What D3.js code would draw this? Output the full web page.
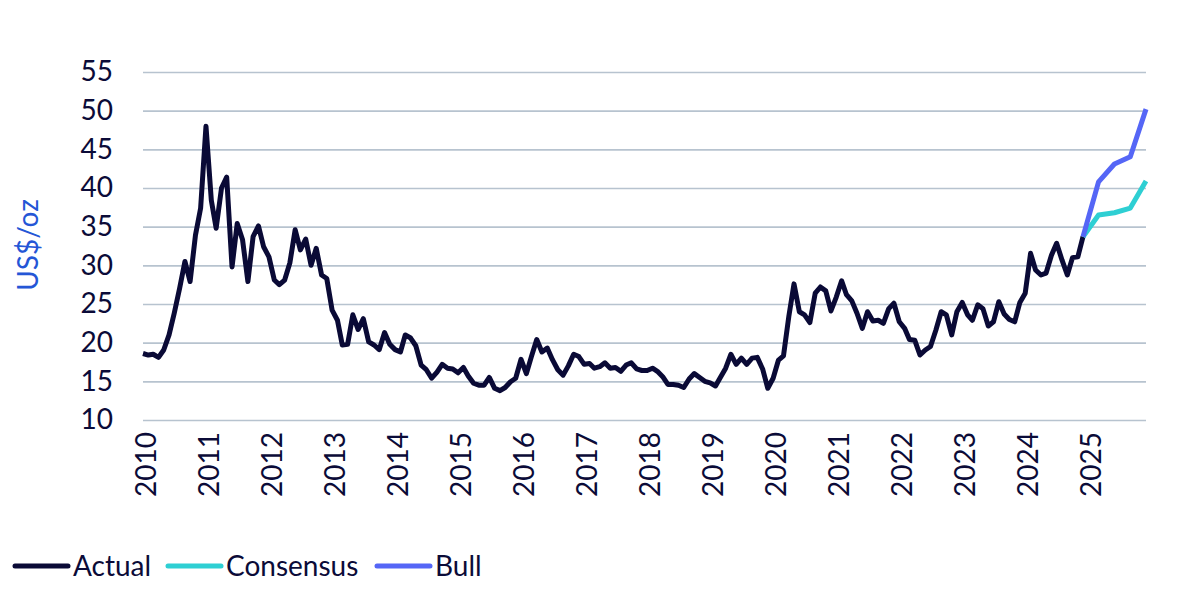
<!DOCTYPE html>
<html>
<head>
<meta charset="utf-8">
<script src="https://cdn.jsdelivr.net/npm/d3@7"></script>
<style>
	body { margin: 0; background: #fff; }
	svg { display: block; }
	.tick text { font-family: Lato, 'Noto Sans', sans-serif; font-size: 28px; fill: #0b0b38; }
	.legend { font-family: Lato, 'Noto Sans', sans-serif; font-size: 28px; fill: #0b0b38; }
</style>
</head>
<body>
<svg id="chart" width="1200" height="594"></svg>
<script>

// monthly silver price, Jan 2010 .. Dec 2024 (US$/oz)
var actual = [
	18.6, 18.4, 18.5, 18.1, 19.05, 21.0, 23.8, 27.0, 30.5, 27.9, 33.9, 37.4,
	48.0, 38.4, 34.8, 40.0, 41.4, 29.8, 35.4, 33.3, 27.9, 33.7, 35.1, 32.4,
	31.1, 28.1, 27.5, 28.1, 30.3, 34.6, 32.0, 33.4, 30.0, 32.2, 28.75, 28.3,
	24.2, 22.9, 19.7, 19.8, 23.6, 21.7, 23.1, 20.1, 19.7, 19.1, 21.3, 19.8,
	19.1, 18.8, 21.0, 20.6, 19.6, 17.1, 16.5, 15.4, 16.2, 17.2, 16.7, 16.6,
	16.1, 16.8, 15.7, 14.75, 14.5, 14.5, 15.5, 14.1, 13.8, 14.2, 14.95, 15.4,
	17.85, 16.0, 18.2, 20.4, 18.8, 19.3, 17.8, 16.5, 15.8, 17.0, 18.5, 18.2,
	17.2, 17.3, 16.7, 16.9, 17.4, 16.7, 16.8, 16.3, 17.1, 17.4, 16.6, 16.4,
	16.4, 16.7, 16.3, 15.6, 14.6, 14.6, 14.5, 14.2, 15.3, 16.0, 15.5, 15.0,
	14.8, 14.4, 15.5, 16.7, 18.5, 17.2, 18.0, 17.2, 18.0, 18.1, 16.6, 14.1,
	15.4, 17.75, 18.3, 23.4, 27.6, 24.0, 23.6, 22.6, 26.4, 27.2, 26.7, 24.1,
	25.9, 28.0, 26.2, 25.4, 23.8, 21.85, 24.0, 22.8, 22.9, 22.5, 24.4, 25.1,
	22.7, 21.85, 20.4, 20.3, 18.4, 19.05, 19.5, 21.6, 24.0, 23.6, 21.0, 24.0,
	25.2, 23.6, 22.9, 24.9, 24.4, 22.15, 22.7, 25.3, 23.7, 23.0, 22.7, 25.2,
	26.4, 31.55, 29.4, 28.75, 29.0, 31.3, 32.85, 30.7, 28.75, 31.0, 31.1, 33.7
];

var forecastMonths = ['2024-12', '2025-03', '2025-06', '2025-09', '2025-12'];
var consensus = [33.7, 36.5, 36.8, 37.4, 40.9];
var bull = [33.7, 40.8, 43.1, 44.05, 50.2];

var yearLabels = ['2010', '2011', '2012', '2013', '2014', '2015', '2016', '2017',
	'2018', '2019', '2020', '2021', '2022', '2023', '2024', '2025'];
var yTicks = [10, 15, 20, 25, 30, 35, 40, 45, 50, 55];

var seriesNames = ['Actual', 'Consensus', 'Bull'];
var seriesColors = ['#0a0a36', '#2ecfd3', '#5566f6'];

var plotLeft = 143, plotRight = 1146, plotTop = 72, plotBottom = 420;
var parseMonth = d3.timeParse('%Y-%m');

var actualMonths = d3.timeMonth.range(new Date(2010, 0, 1), new Date(2025, 0, 1));

var xScale = d3.scaleTime()
	.domain([new Date(2010, 0, 1), new Date(2025, 11, 1)])
	.range([plotLeft, plotRight]);

var yScale = d3.scaleLinear()
	.domain([10, 55])
	.range([plotBottom, plotTop]);

var svg = d3.select('#chart');
var g = svg.append('g');

drawAxes();
drawLines();
drawLegend();

function drawAxes() {

	var yAxis = d3.axisLeft(yScale)
		.tickValues(yTicks)
		.tickSize(-(plotRight - plotLeft))
		.tickPadding(30);

	var ya = g.append('g')
		.attr('transform', 'translate(' + plotLeft + ',0)')
		.call(yAxis);

	ya.select('.domain').remove();
	ya.selectAll('.tick line')
		.attr('stroke', '#b7c3cf')
		.attr('stroke-width', 1.6);

	var xAxis = d3.axisBottom(xScale)
		.tickValues(yearLabels.map(function(d) { return parseMonth(d + '-01'); }))
		.tickFormat(d3.timeFormat('%Y'))
		.tickSize(0);

	var xa = g.append('g')
		.attr('transform', 'translate(2,' + plotBottom + ')')
		.call(xAxis);

	xa.select('.domain').remove();
	xa.selectAll('.tick text')
		.attr('transform', 'rotate(-90)')
		.attr('x', -12)
		.attr('y', 0)
		.attr('dy', '0.36em')
		.attr('text-anchor', 'end');

	g.append('text') // axis title
		.attr('transform', 'translate(38,245) rotate(-90)')
		.attr('text-anchor', 'middle')
		.text('US$/oz')
		.attr('class', 'legend')
		.style('fill', '#2456d6');
}

function drawLines() {

	var line = d3.line()
		.x(function(d) { return xScale(d[0]); })
		.y(function(d) { return yScale(d[1]); });

	var actualPts = actual.map(function(v, i) { return [actualMonths[i], v]; });
	var consPts = consensus.map(function(v, i) { return [parseMonth(forecastMonths[i]), v]; });
	var bullPts = bull.map(function(v, i) { return [parseMonth(forecastMonths[i]), v]; });

	[actualPts, consPts, bullPts].forEach(function(pts, k) {
		g.append('path')
			.datum(pts)
			.attr('d', line)
			.style('fill', 'none')
			.attr('stroke', seriesColors[k])
			.attr('stroke-width', 5)
			.attr('stroke-linejoin', 'round');
	});
}

function drawLegend() {

	var lineX = [15, 168, 377];

	seriesNames.forEach(function(name, k) {

		g.append('line')
			.attr('x1', lineX[k])
			.attr('y1', 566)
			.attr('x2', lineX[k] + 53)
			.attr('y2', 566)
			.attr('stroke', seriesColors[k])
			.attr('stroke-width', 5)
			.attr('stroke-linecap', 'round');

		g.append('text')
			.attr('x', lineX[k] + 58)
			.attr('y', 576)
			.text(name)
			.attr('class', 'legend');
	});
}

</script>
</body>
</html>
